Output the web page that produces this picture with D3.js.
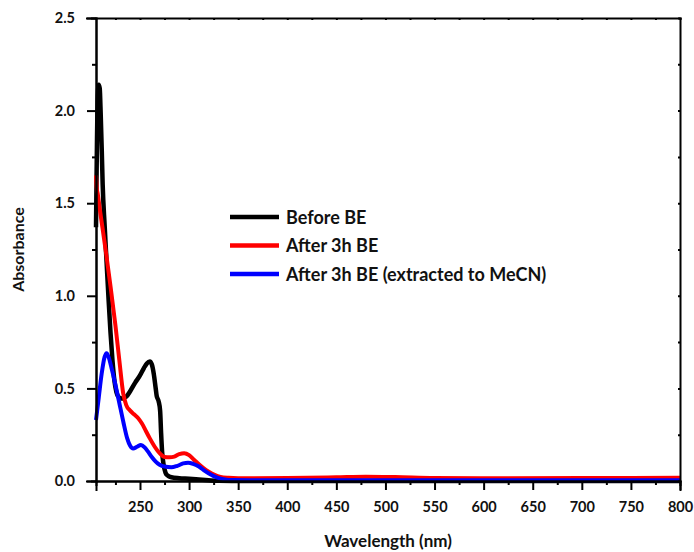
<!DOCTYPE html>
<html>
<head>
<meta charset="utf-8">
<script src="https://cdn.jsdelivr.net/npm/d3@7"></script>
<style>
  body { margin: 0; background: #fff; }
  svg text { font-family: Lato, "Open Sans", sans-serif; font-weight: bold; fill: #111; }
  .axis path, .axis line { stroke: #000; }
</style>
</head>
<body>
<div id="chart"></div>
<script>
// wavelength (nm) / absorbance
var before_wl = [205.2, 206, 207, 208, 209, 210, 211, 212, 214, 216, 218, 220, 222, 224, 226, 228, 230, 233, 236, 240, 245, 250, 254, 257, 260, 262, 264, 266, 267, 269, 270.5, 271.5, 272.5, 274, 276, 278, 282, 290, 300, 310, 320, 330, 350, 400, 500, 600, 700, 800]
var before_abs = [1.37, 1.75, 2.08, 2.14, 2.12, 1.98, 1.80, 1.60, 1.38, 1.18, 0.98, 0.80, 0.65, 0.54, 0.48, 0.455, 0.447, 0.445, 0.455, 0.485, 0.53, 0.57, 0.61, 0.635, 0.645, 0.63, 0.58, 0.50, 0.46, 0.43, 0.38, 0.26, 0.16, 0.09, 0.045, 0.03, 0.02, 0.015, 0.012, 0.008, 0.004, 0.001, 0, 0, 0, 0, 0, 0]

var after_wl = [205.2, 206, 207, 209, 212, 216, 220, 225, 229, 233, 236, 240, 244, 248, 252, 256, 260, 265, 270, 275, 280, 285, 290, 295, 300, 305, 310, 315, 320, 326, 332, 340, 350, 400, 450, 480, 510, 550, 600, 700, 800]
var after_abs = [1.65, 1.58, 1.55, 1.47, 1.36, 1.21, 1.05, 0.84, 0.65, 0.47, 0.41, 0.38, 0.36, 0.34, 0.31, 0.27, 0.23, 0.185, 0.15, 0.13, 0.128, 0.132, 0.145, 0.15, 0.14, 0.115, 0.09, 0.068, 0.05, 0.033, 0.022, 0.017, 0.015, 0.016, 0.02, 0.023, 0.021, 0.016, 0.015, 0.016, 0.017]

var mecn_wl = [205.2, 208, 211, 214, 216, 218, 221, 225, 229, 233, 237, 240, 243, 247, 251, 255, 258, 262, 266, 270, 275, 282, 288, 294, 299, 304, 310, 316, 322, 328, 335, 345, 400, 500, 600, 700, 800]
var mecn_abs = [0.33, 0.45, 0.58, 0.67, 0.69, 0.67, 0.61, 0.52, 0.42, 0.32, 0.23, 0.19, 0.175, 0.185, 0.195, 0.18, 0.16, 0.13, 0.105, 0.088, 0.078, 0.074, 0.082, 0.095, 0.099, 0.093, 0.078, 0.055, 0.035, 0.02, 0.01, 0.005, 0.004, 0.004, 0.004, 0.004, 0.004]

var series_names = ["Before BE", "After 3h BE", "After 3h BE (extracted to MeCN)"]
var series_colors = ["#000000", "#ff0000", "#0000ff"]
var x_ticks = [250, 300, 350, 400, 450, 500, 550, 600, 650, 700, 750, 800]
var y_ticks = [0, 0.5, 1.0, 1.5, 2.0, 2.5]

var width = 694, height = 552
var margin = {left: 96, right: 14, top: 18, bottom: 71}

var svg = d3.select("#chart").append("svg")
  .attr("width", width)
  .attr("height", height)

var x = d3.scaleLinear().domain([205.2, 800]).range([margin.left, width - margin.right])
var y = d3.scaleLinear().domain([0, 2.5]).range([height - margin.bottom, margin.top])

var x_minor = d3.range(225, 800, 50)
var y_minor = d3.range(0.25, 2.5, 0.5)

// Curves first, frame on top.
var curves = svg.append("g")
var frame = svg.append("g")

var line = d3.line()
  .x(function (d) { return x(d[0]) })
  .y(function (d) { return y(d[1]) })
  .curve(d3.curveMonotoneX)

var all_series = [
  d3.zip(before_wl, before_abs),
  d3.zip(after_wl, after_abs),
  d3.zip(mecn_wl, mecn_abs)
]
all_series.forEach(function (pts, i) {
  curves.append("path")
    .attr("d", line(pts))
    .attr("fill", "none")
    .attr("stroke", series_colors[i])
    .attr("stroke-width", i == 0 ? 4.5 : 4)
    .attr("stroke-linejoin", "round")
})

// Bottom axis
var x_axis = frame.append("g")
  .attr("class", "axis")
  .attr("transform", "translate(0," + y(0) + ")")
  .call(d3.axisBottom(x).tickValues(x_ticks).tickSize(9).tickPadding(12).tickFormat(d3.format("d")))
x_axis.selectAll("text").style("font-size", "14.5px")
frame.append("g")
  .attr("class", "axis")
  .attr("transform", "translate(0," + y(0) + ")")
  .call(d3.axisBottom(x).tickValues(x_minor).tickSize(4).tickFormat(""))

// Left axis
var y_axis = frame.append("g")
  .attr("class", "axis")
  .attr("transform", "translate(" + x.range()[0] + ",0)")
  .call(d3.axisLeft(y).tickValues(y_ticks).tickSize(9).tickPadding(12).tickFormat(d3.format(".1f")))
y_axis.selectAll("text").style("font-size", "14.5px")
frame.append("g")
  .attr("class", "axis")
  .attr("transform", "translate(" + x.range()[0] + ",0)")
  .call(d3.axisLeft(y).tickValues(y_minor).tickSize(4).tickFormat(""))

// Top and right axes, tiny inward ticks
frame.append("g")
  .attr("class", "axis")
  .attr("transform", "translate(0," + y(2.5) + ")")
  .call(d3.axisBottom(x).tickValues(x_ticks.concat(x_minor)).tickSize(2).tickSizeOuter(0).tickFormat(""))
frame.append("g")
  .attr("class", "axis")
  .attr("transform", "translate(" + x.range()[1] + ",0)")
  .call(d3.axisLeft(y).tickValues(y_ticks.concat(y_minor)).tickSize(2).tickSizeOuter(0).tickFormat(""))

frame.selectAll(".axis path, .axis line").attr("stroke-width", 2)
frame.selectAll(".axis path").attr("stroke-linecap", "square")

// Axis titles
svg.append("text")
  .attr("x", (x.range()[0] + x.range()[1]) / 2)
  .attr("y", 547)
  .attr("text-anchor", "middle")
  .style("font-size", "17px")
  .text("Wavelength (nm)")

svg.append("text")
  .attr("transform", "translate(24," + (y(1.25)) + ") rotate(-90)")
  .attr("text-anchor", "middle")
  .style("font-size", "16px")
  .text("Absorbance")

// Legend
var legend = svg.append("g")
series_names.forEach(function (name, i) {
  var ly = 217 + i * 28.5
  legend.append("line")
    .attr("x1", 230).attr("x2", 279)
    .attr("y1", ly).attr("y2", ly)
    .attr("stroke", series_colors[i])
    .attr("stroke-width", 4.5)
  legend.append("text")
    .attr("x", 286)
    .attr("y", ly + 6.5)
    .style("font-size", "18px")
    .text(name)
})
</script>
</body>
</html>
